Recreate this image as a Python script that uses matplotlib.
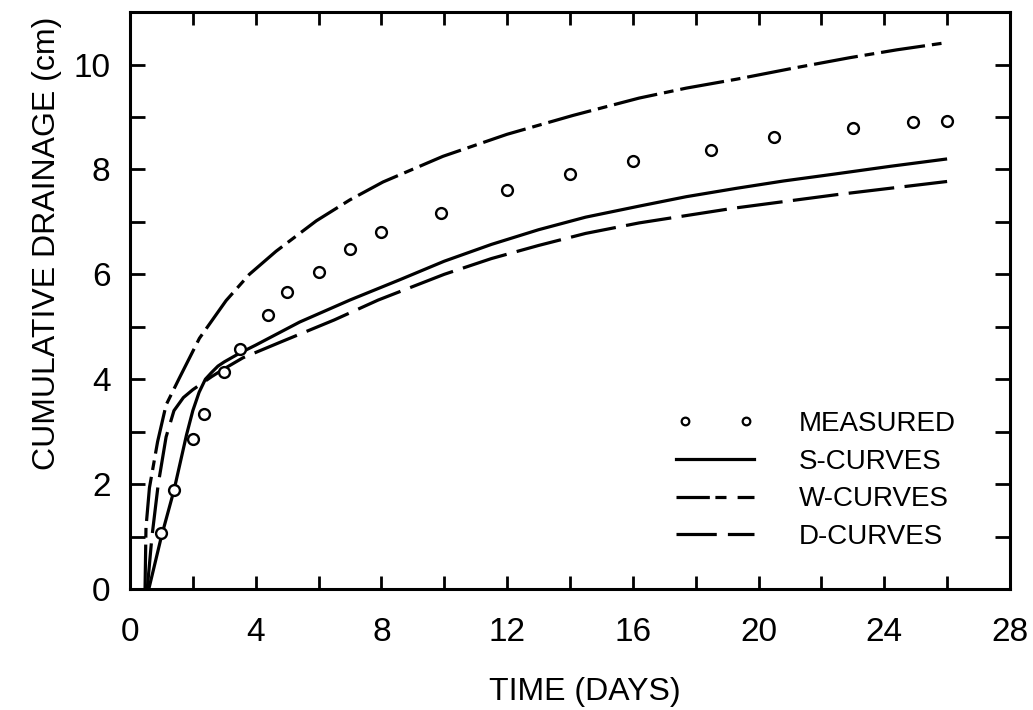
""" Cumulative drainage vs. time: measured points and three model curves. """

import matplotlib
matplotlib.use("Agg")
import matplotlib.pyplot as plt
from matplotlib.lines import Line2D
from matplotlib.legend_handler import HandlerLine2D
from matplotlib.ticker import MultipleLocator

plt.rcParams["font.family"] = ["Liberation Sans", "DejaVu Sans"]
plt.rcParams["lines.scale_dashes"] = False

# measured drainage (days, cm)
meas_days = [1.0, 1.4, 2.0, 2.35, 3.0, 3.5, 4.4, 5.0, 6.0, 7.0, 8.0, 9.9,
             12.0, 14.0, 16.0, 18.5, 20.5, 23.0, 24.9, 26.0]
meas_cm = [1.07, 1.88, 2.86, 3.34, 4.14, 4.57, 5.23, 5.66, 6.04, 6.49, 6.80,
           7.17, 7.60, 7.91, 8.16, 8.37, 8.61, 8.79, 8.90, 8.93]

# S-curves
s_days = [0.6, 0.8, 1.0, 1.4, 1.8, 2.0, 2.2, 2.4, 2.6, 2.8, 3.0, 3.5, 4.0,
          5.4, 7.0, 8.6, 10.0, 11.5, 13.0, 14.5, 16.2, 17.7, 19.3, 20.8,
          22.4, 24.2, 26.0]
s_cm = [0.0, 0.5, 1.0, 1.88, 2.94, 3.4, 3.75, 4.0, 4.13, 4.25, 4.33, 4.5,
        4.65, 5.09, 5.51, 5.90, 6.25, 6.57, 6.85, 7.09, 7.3, 7.48, 7.64,
        7.78, 7.91, 8.06, 8.2]

# W-curves
w_days = [0.48, 0.51, 0.62, 0.88, 1.15, 1.57, 2.21, 3.06, 3.8, 4.65, 5.93,
          7.0, 8.05, 9.96, 12.0, 14.1, 16.2, 17.7, 19.3, 21.1, 22.9, 24.4,
          25.9]
w_cm = [0.0, 1.17, 1.93, 2.81, 3.51, 4.02, 4.78, 5.5, 6.0, 6.44, 7.02, 7.42,
        7.76, 8.25, 8.67, 9.03, 9.36, 9.55, 9.72, 9.93, 10.13, 10.28, 10.41]

# D-curves
d_days = [0.55, 0.7, 0.9, 1.15, 1.4, 1.7, 2.0, 2.6, 3.0, 3.6, 4.8, 6.5, 7.9,
          10.0, 11.5, 13.0, 14.5, 16.2, 17.7, 19.2, 22.5, 26.0]
d_cm = [0.0, 1.0, 2.0, 2.9, 3.4, 3.65, 3.8, 4.05, 4.2, 4.41, 4.71, 5.13, 5.51,
        6.0, 6.3, 6.55, 6.78, 6.98, 7.12, 7.26, 7.52, 7.77]

labels = ["MEASURED", "S-CURVES", "W-CURVES", "D-CURVES"]

LW = 2.3
W_DASH = (0, (32, 5, 7, 5))
D_DASH = (0, (33, 7.5))

fig = plt.figure(figsize=(10.33, 7.1), dpi=100)
ax = fig.add_axes([0.1258, 0.1704, 0.8519, 0.8126])

ax.plot(s_days, s_cm, color="black", lw=LW, solid_capstyle="butt",
        solid_joinstyle="round")
ax.plot(w_days, w_cm, color="black", lw=LW, linestyle=W_DASH,
        dash_joinstyle="round")
ax.plot(d_days, d_cm, color="black", lw=LW, linestyle=D_DASH,
        dash_joinstyle="round")
ax.plot(meas_days, meas_cm, "o", ms=7.8, mfc="white", mec="black", mew=1.7,
        zorder=5)

ax.set_xlim(0, 28)
ax.set_ylim(0, 11)
ax.xaxis.set_major_locator(MultipleLocator(4))
ax.xaxis.set_minor_locator(MultipleLocator(2))
ax.yaxis.set_major_locator(MultipleLocator(2))
ax.yaxis.set_minor_locator(MultipleLocator(1))
ax.tick_params(which="both", direction="in", top=True, right=True,
               width=2.0, color="black")
ax.tick_params(axis="x", which="both", length=9.5, pad=20, labelsize=24)
ax.tick_params(axis="y", which="both", length=11, pad=14, labelsize=24)
for sp in ax.spines.values():
    sp.set_linewidth(2.2)

ax.set_xlabel("TIME (DAYS)", fontsize=23)
ax.xaxis.set_label_coords(0.517, -0.178)
ax.xaxis.label.set_va("center")
ax.set_ylabel("CUMULATIVE DRAINAGE (cm)", fontsize=23)
ax.yaxis.set_label_coords(-0.094, 0.6)
ax.yaxis.label.set_va("center")

# legend handles
h_meas = Line2D([], [], marker="o", ls="none", ms=5.5, mfc="white",
                mec="black", mew=1.6)
h_s = Line2D([], [], color="black", lw=LW)
h_w = Line2D([], [], color="black", lw=LW, linestyle=(0, (24, 4, 8, 8)))
h_d = Line2D([], [], color="black", lw=LW, linestyle=(0, (29, 8)))
leg = ax.legend([h_meas, h_s, h_w, h_d], labels, loc="upper left",
                bbox_to_anchor=(668 / 1033, 1 - 411 / 710),
                bbox_transform=fig.transFigure, frameon=False, fontsize=20,
                numpoints=2, handlelength=3.4, handletextpad=1.3,
                labelspacing=0.42, borderpad=0, borderaxespad=0,
                handler_map={h_meas: HandlerLine2D(marker_pad=0.6)})

fig.savefig("out.png", dpi=100)
